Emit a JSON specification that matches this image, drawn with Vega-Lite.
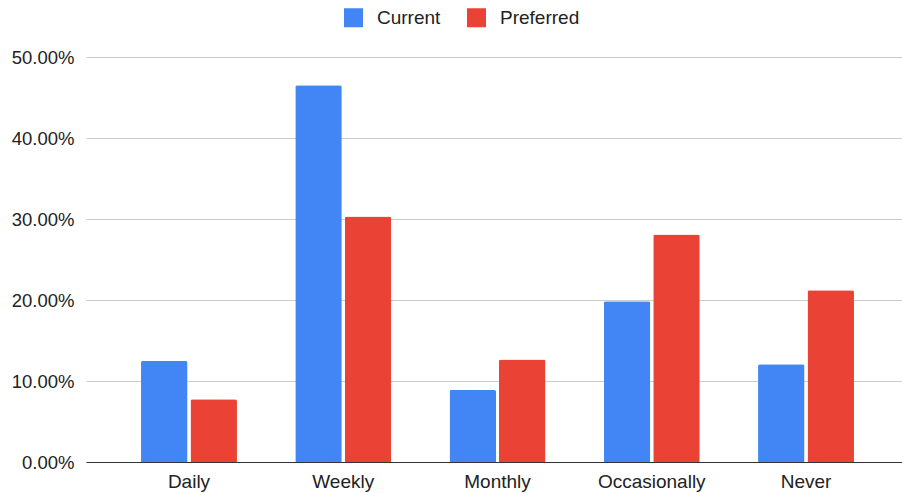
{
  "$schema": "https://vega.github.io/schema/vega-lite/v6.json",
  "autosize": {"type": "none"},
  "width": 816,
  "height": 405,
  "padding": {"left": 86, "top": 57, "right": 0, "bottom": 31},
  "background": "white",
  "config": {
    "font": "Liberation Sans",
    "view": {"stroke": null}
  },
  "data": {
    "values": [
      {"frequency": "Daily", "series": "Current", "share": 0.1248},
      {"frequency": "Daily", "series": "Preferred", "share": 0.0775},
      {"frequency": "Weekly", "series": "Current", "share": 0.465},
      {"frequency": "Weekly", "series": "Preferred", "share": 0.303},
      {"frequency": "Monthly", "series": "Current", "share": 0.089},
      {"frequency": "Monthly", "series": "Preferred", "share": 0.1265},
      {"frequency": "Occasionally", "series": "Current", "share": 0.1986},
      {"frequency": "Occasionally", "series": "Preferred", "share": 0.281},
      {"frequency": "Never", "series": "Current", "share": 0.1207},
      {"frequency": "Never", "series": "Preferred", "share": 0.212}
    ]
  },
  "mark": {"type": "bar", "cornerRadiusTopLeft": 2, "cornerRadiusTopRight": 2},
  "encoding": {
    "x": {
      "field": "frequency",
      "type": "nominal",
      "sort": ["Daily", "Weekly", "Monthly", "Occasionally", "Never"],
      "scale": {"paddingInner": 0.378, "paddingOuter": 0.334, "align": 0.534},
      "axis": {
        "title": null,
        "labelAngle": 0,
        "labelFontSize": 19,
        "labelColor": "#222222",
        "labelPadding": 10,
        "ticks": false,
        "domainColor": "#333333",
        "domainWidth": 1
      }
    },
    "xOffset": {
      "field": "series",
      "type": "nominal",
      "scale": {"paddingInner": 0.06, "paddingOuter": 0}
    },
    "y": {
      "field": "share",
      "type": "quantitative",
      "scale": {"domain": [0, 0.5], "nice": false},
      "axis": {
        "title": null,
        "format": ".2%",
        "values": [0, 0.1, 0.2, 0.3, 0.4, 0.5],
        "labelFontSize": 18.5,
        "labelColor": "#222222",
        "labelPadding": 12,
        "ticks": false,
        "domain": false,
        "gridColor": "#cccccc",
        "gridWidth": 1
      }
    },
    "color": {
      "field": "series",
      "type": "nominal",
      "scale": {"domain": ["Current", "Preferred"], "range": ["#4285F4", "#EA4335"]},
      "legend": {
        "title": null,
        "orient": "none",
        "direction": "horizontal",
        "legendX": 258,
        "legendY": -49,
        "symbolType": "square",
        "symbolSize": 361,
        "symbolStrokeWidth": 0,
        "symbolOpacity": 1,
        "labelFontSize": 19,
        "labelColor": "#222222",
        "labelOffset": 14,
        "columnPadding": 26
      }
    }
  }
}
